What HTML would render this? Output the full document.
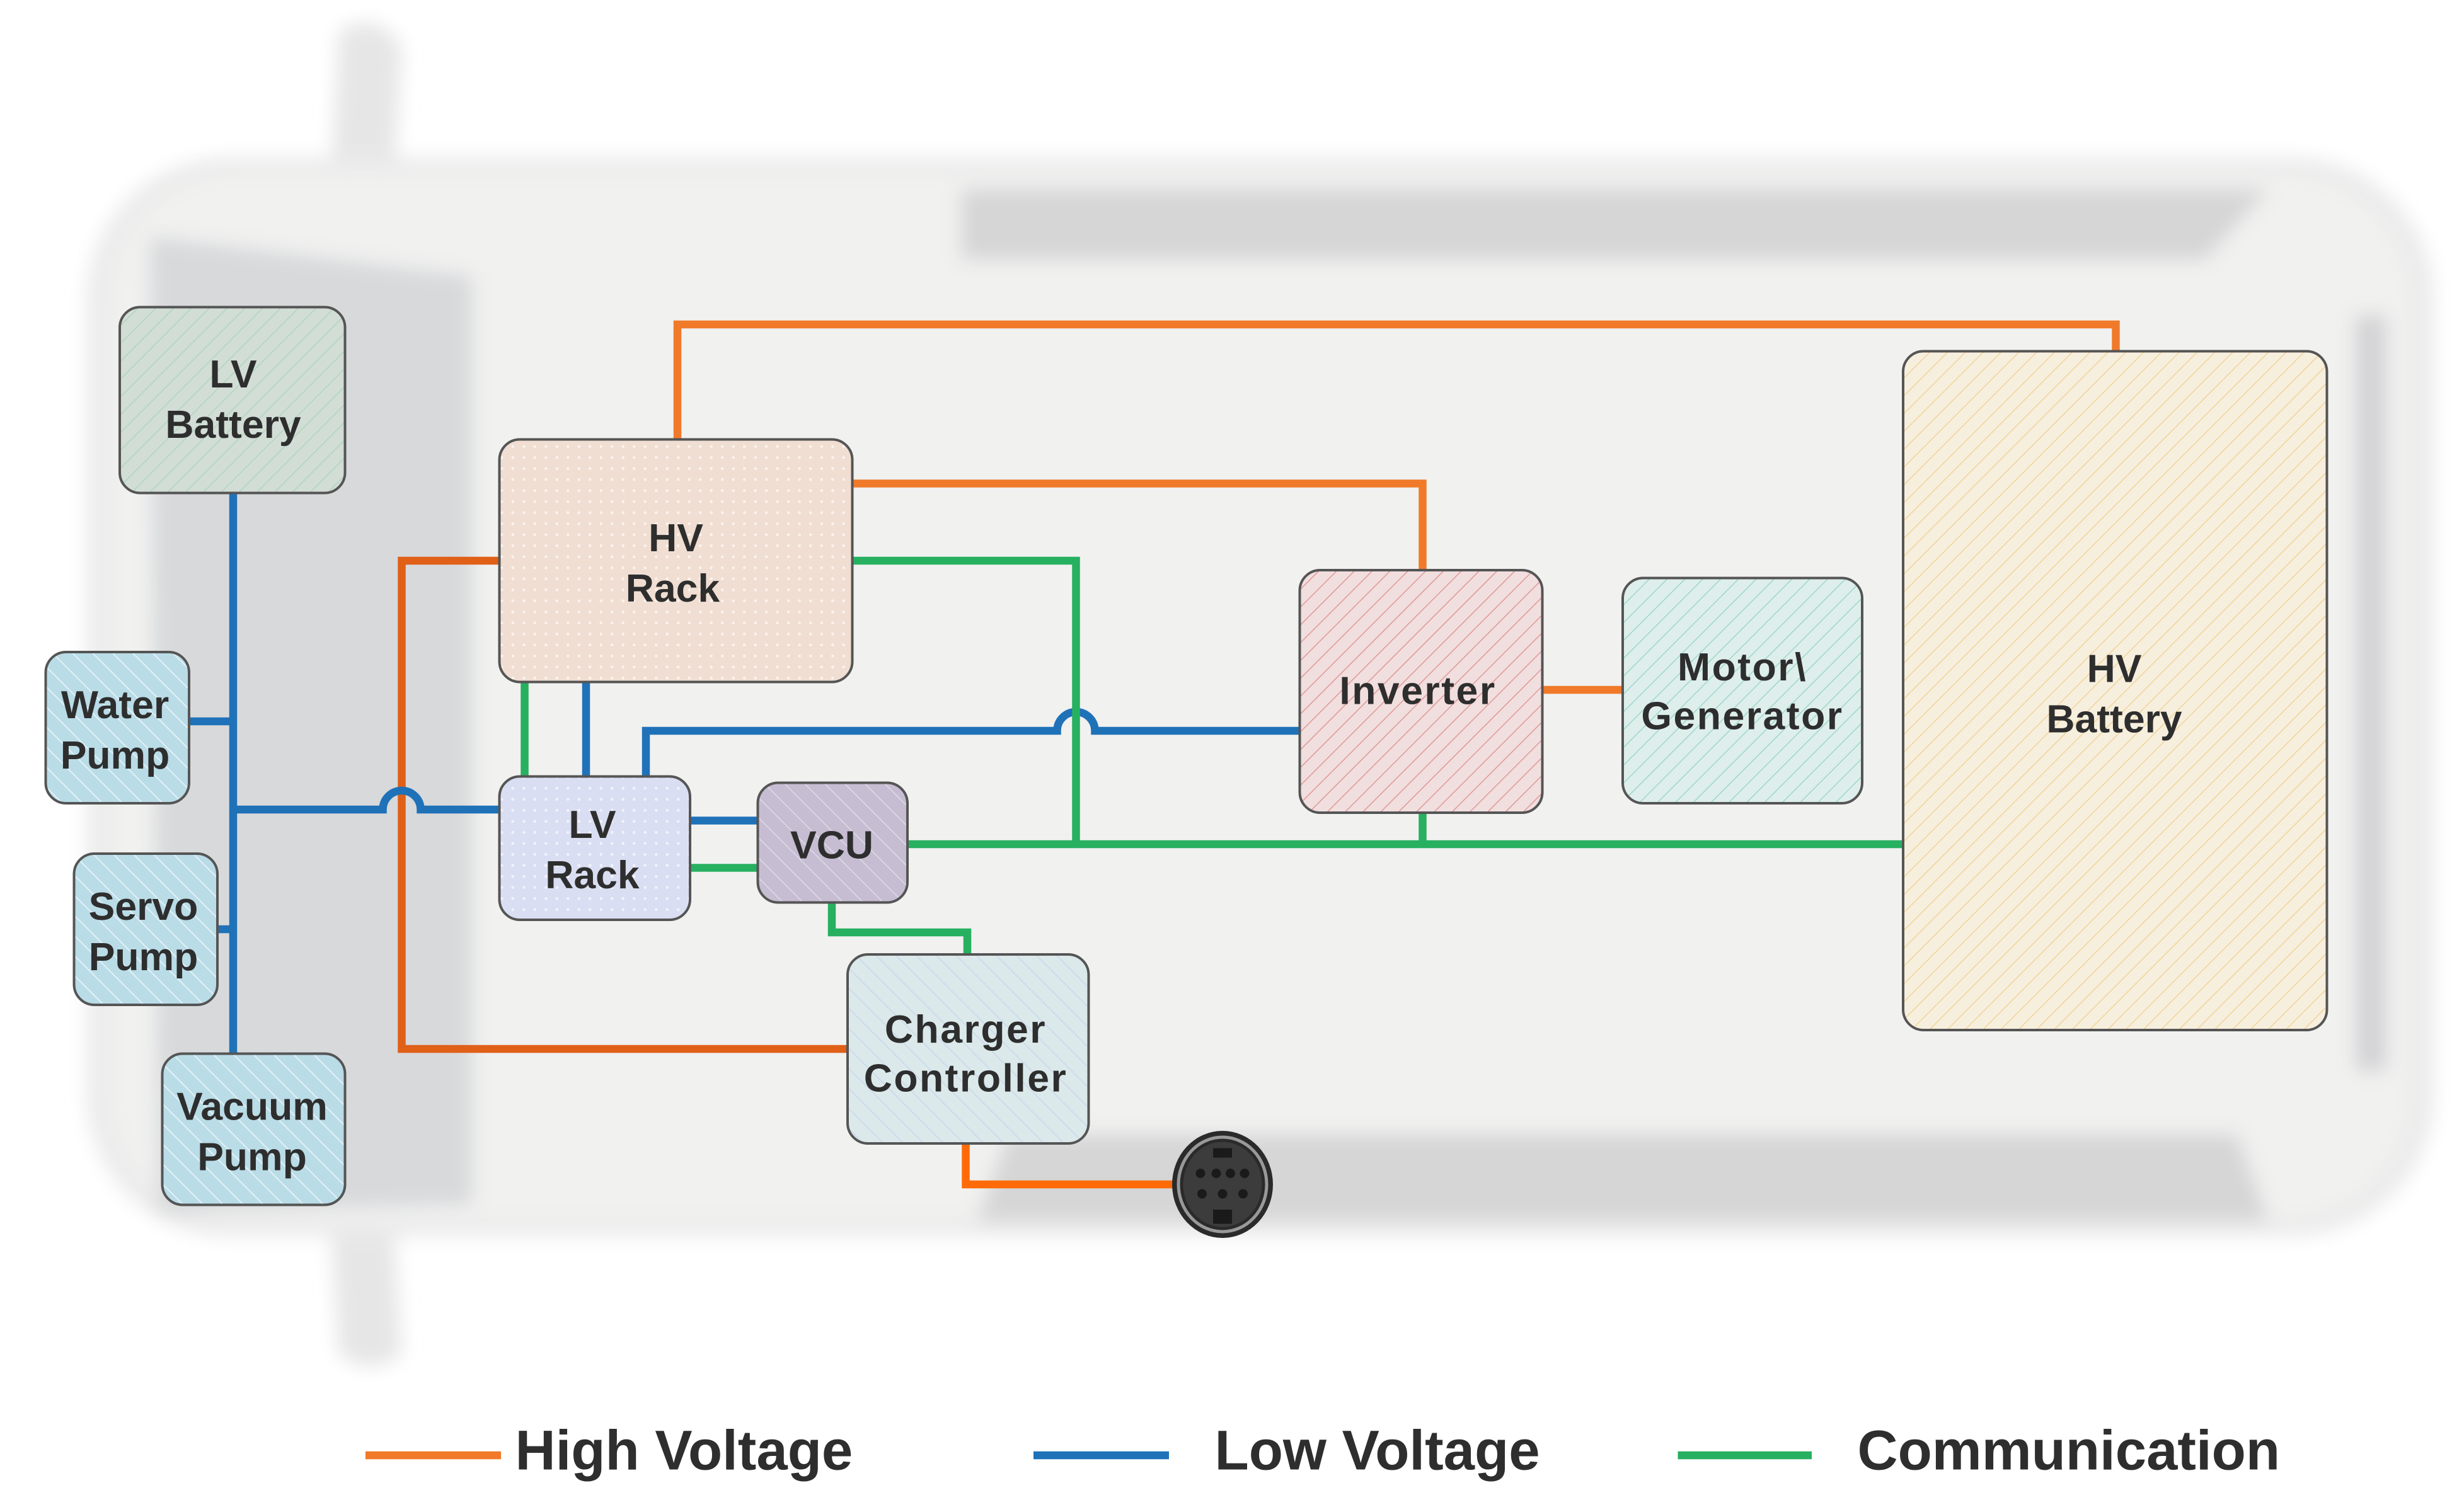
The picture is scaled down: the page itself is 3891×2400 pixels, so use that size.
<!DOCTYPE html>
<html><head><meta charset="utf-8"><style>
html,body{margin:0;padding:0;background:#fff;}
svg{display:block;}
text{font-family:"Liberation Sans",sans-serif;font-weight:bold;fill:#2e2e2e;}
</style></head><body>
<svg width="3891" height="2400" viewBox="0 0 1556.4 960" xmlns="http://www.w3.org/2000/svg">
<defs>
<pattern id="hG" width="8" height="8" patternUnits="userSpaceOnUse" patternTransform="rotate(45)"><rect width="8" height="8" fill="#d2ddd6"/><line x1="0" y1="0" x2="0" y2="8" stroke="#a9d4b6" stroke-width="1"/></pattern>
<pattern id="hB" width="9" height="9" patternUnits="userSpaceOnUse" patternTransform="rotate(-45)"><rect width="9" height="9" fill="#b9dce7"/><line x1="0" y1="0" x2="0" y2="9" stroke="#e4f2f6" stroke-width="1.5"/></pattern>
<pattern id="hC" width="9" height="9" patternUnits="userSpaceOnUse" patternTransform="rotate(-45)"><rect width="9" height="9" fill="#dbe9ea"/><line x1="0" y1="0" x2="0" y2="9" stroke="#c8d2ee" stroke-width="1"/></pattern>
<pattern id="hV" width="9" height="9" patternUnits="userSpaceOnUse" patternTransform="rotate(-45)"><rect width="9" height="9" fill="#c6bdd2"/><line x1="0" y1="0" x2="0" y2="9" stroke="#e0dbe8" stroke-width="1.2"/></pattern>
<pattern id="hR" width="8" height="8" patternUnits="userSpaceOnUse" patternTransform="rotate(45)"><rect width="8" height="8" fill="#f1dede"/><line x1="0" y1="0" x2="0" y2="8" stroke="#df8a8a" stroke-width="1"/></pattern>
<pattern id="hT" width="8" height="8" patternUnits="userSpaceOnUse" patternTransform="rotate(45)"><rect width="8" height="8" fill="#deeeeb"/><line x1="0" y1="0" x2="0" y2="8" stroke="#8fd3c8" stroke-width="1"/></pattern>
<pattern id="hY" width="8" height="8" patternUnits="userSpaceOnUse" patternTransform="rotate(45)"><rect width="8" height="8" fill="#f7efde"/><line x1="0" y1="0" x2="0" y2="8" stroke="#efcf8a" stroke-width="1"/></pattern>
<pattern id="dH" width="7" height="7" patternUnits="userSpaceOnUse"><rect width="7" height="7" fill="#f0ded2"/><circle cx="3.5" cy="3.5" r="0.9" fill="#fbf3ee"/></pattern>
<pattern id="dL" width="7" height="7" patternUnits="userSpaceOnUse"><rect width="7" height="7" fill="#dadef2"/><circle cx="3.5" cy="3.5" r="0.9" fill="#f2f3fb"/></pattern>
<filter id="blur"><feGaussianBlur stdDeviation="6"/></filter>
</defs>
<rect width="1556.4" height="960" fill="#fff"/>
<g filter="url(#blur)">
<path d="M215 20 Q240 5 255 30 L250 120 L210 120 Z" fill="#e6e6e6"/>
<path d="M210 780 L250 780 L255 860 Q235 875 215 860 Z" fill="#e6e6e6"/>
<rect x="55" y="100" width="1490" height="685" rx="90" fill="#ebebeb"/>
<rect x="70" y="110" width="1460" height="665" rx="80" fill="#f1f1f0"/>
<path d="M95 150 L300 175 L300 765 L100 770 Z" fill="#d8d9db"/>
<path d="M610 120 L1440 120 L1400 165 L610 165 Z" fill="#d6d6d7"/>
<path d="M640 720 L1420 720 L1440 775 L620 775 Z" fill="#d6d6d7"/>
<rect x="1495" y="200" width="20" height="480" fill="#d3d3d5"/>
</g>
<g fill="none" stroke="#f07a2a" stroke-width="5" stroke-linejoin="miter">
<polyline points="430,279 430,206 1343,206 1343,223"/>
<polyline points="541,307 903,307 903,362"/>
<polyline points="317,356 255,356 255,666 538,666" stroke="#e06018"/>
<line x1="979" y1="438" x2="1030" y2="438"/>
<polyline points="613,726 613,752 748,752" stroke="#ff6a08"/>
</g>
<g fill="none" stroke="#1f72b8" stroke-width="5">
<line x1="148" y1="313" x2="148" y2="669"/>
<line x1="120" y1="458" x2="148" y2="458"/>
<line x1="138" y1="590" x2="148" y2="590"/>
<path d="M148 514 L243 514 A12 12 0 0 1 267 514 L317 514"/>
<line x1="372" y1="433" x2="372" y2="493"/>
<path d="M410 493 L410 464 L671 464 A12 12 0 0 1 695 464 L825 464"/>
<line x1="438" y1="521" x2="481" y2="521"/>
</g>
<g fill="none" stroke="#27b060" stroke-width="5">
<line x1="333" y1="433" x2="333" y2="493"/>
<polyline points="541,356 683,356 683,536"/>
<line x1="576" y1="536" x2="1208" y2="536"/>
<line x1="903" y1="516" x2="903" y2="536"/>
<line x1="438" y1="551" x2="481" y2="551"/>
<polyline points="528,573 528,592 614,592 614,606"/>
</g>
<g stroke="#555" stroke-width="1.6">
<rect x="76" y="195" width="143" height="118" rx="13" fill="url(#hG)"/>
<rect x="317" y="279" width="224" height="154" rx="13" fill="url(#dH)"/>
<rect x="29" y="414" width="91" height="96" rx="13" fill="url(#hB)"/>
<rect x="47" y="542" width="91" height="96" rx="13" fill="url(#hB)"/>
<rect x="103" y="669" width="116" height="96" rx="13" fill="url(#hB)"/>
<rect x="317" y="493" width="121" height="91" rx="13" fill="url(#dL)"/>
<rect x="481" y="497" width="95" height="76" rx="13" fill="url(#hV)"/>
<rect x="538" y="606" width="153" height="120" rx="13" fill="url(#hC)"/>
<rect x="825" y="362" width="154" height="154" rx="13" fill="url(#hR)"/>
<rect x="1030" y="367" width="152" height="143" rx="13" fill="url(#hT)"/>
<rect x="1208" y="223" width="269" height="431" rx="13" fill="url(#hY)"/>
</g>
<ellipse cx="776" cy="752" rx="32" ry="34" fill="#2a2a2a"/>
<ellipse cx="776" cy="752" rx="28" ry="30" fill="none" stroke="#999" stroke-width="2"/>
<ellipse cx="776" cy="752" rx="25" ry="27" fill="#3c3c3c"/>
<g fill="#1a1a1a"><rect x="770" y="729" width="12" height="6"/><rect x="770" y="768" width="12" height="9"/>
<circle cx="762" cy="745" r="3"/><circle cx="772" cy="745" r="3"/><circle cx="781" cy="745" r="3"/><circle cx="790" cy="745" r="3"/>
<circle cx="763" cy="758" r="3"/><circle cx="776" cy="758" r="3"/><circle cx="789" cy="758" r="3"/></g>
<g font-size="25" text-anchor="middle">
<text x="148" y="246">LV</text><text x="148" y="278">Battery</text>
<text x="429" y="350">HV</text><text x="427" y="382">Rack</text>
<text x="73" y="456">Water</text><text x="73" y="488">Pump</text>
<text x="91" y="584">Servo</text><text x="91" y="616">Pump</text>
<text x="160" y="711">Vacuum</text><text x="160" y="743">Pump</text>
<text x="376" y="532">LV</text><text x="376" y="564">Rack</text>
<text x="528" y="545">VCU</text>
<text x="613" y="662" letter-spacing="1">Charger</text><text x="613" y="693" letter-spacing="1">Controller</text>
<text x="900" y="447" letter-spacing="1">Inverter</text>
<text x="1106" y="432" letter-spacing="1">Motor\</text><text x="1106" y="463" letter-spacing="1">Generator</text>
<text x="1342" y="433">HV</text><text x="1342" y="465">Battery</text>
</g>
<g stroke-width="5">
<line x1="232" y1="924" x2="318" y2="924" stroke="#f07a2a"/>
<line x1="656" y1="924" x2="742" y2="924" stroke="#1f72b8"/>
<line x1="1065" y1="924" x2="1150" y2="924" stroke="#27b060"/>
</g>
<g font-size="35.5" fill="#333">
<text x="327" y="933">High Voltage</text>
<text x="771" y="933">Low Voltage</text>
<text x="1179" y="933">Communication</text>
</g>
</svg>
</body></html>
